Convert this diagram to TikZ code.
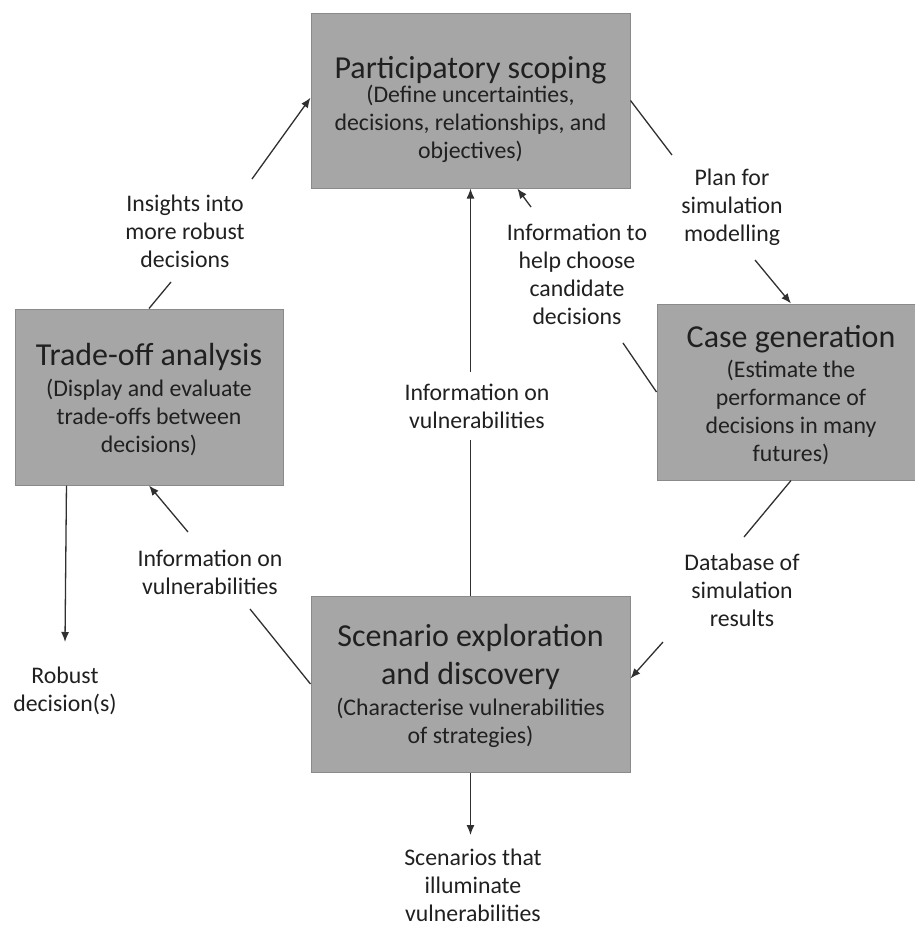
\documentclass[tikz,border=0pt]{standalone}
\usepackage{fontspec}
\setmainfont{Carlito}
\usetikzlibrary{arrows.meta}
\definecolor{boxfill}{HTML}{A6A6A6}
\definecolor{boxedge}{HTML}{8A8A8A}
\definecolor{lin}{HTML}{303030}
\definecolor{txt}{HTML}{202020}
\newcommand\boxtitle{\fontsize{32}{38}\selectfont}
\newcommand\boxsub{\fontsize{23.8}{28}\selectfont}
\begin{document}
\begin{tikzpicture}[x=1pt,y=-1pt,
  box/.style={draw=boxedge, fill=boxfill, line width=1pt, inner sep=0pt},
  boxtxt/.style={align=center, text=txt, inner sep=0pt, font=\boxsub},
  lbl/.style={align=center, text=txt, font=\boxsub, inner sep=0pt},
  conn/.style={draw=lin, line width=1.3pt},
  arr/.style={conn, -{Latex[length=10pt,width=8pt]}}]
\useasboundingbox (0,0) rectangle (914,927);
% boxes
\node[box, minimum width=319pt, minimum height=175pt] (part) at (470.5,100.5) {};
\node[boxtxt, yshift=-9pt] (partT) at (part)
  {{\boxtitle Participatory scoping}\\[-4pt](Define uncertainties,\\decisions, relationships, and\\objectives)};
\node[box, minimum width=268pt, minimum height=176pt] (case) at (791,392) {};
\node[boxtxt, yshift=-3pt] (caseT) at (case)
  {{\boxtitle Case generation}\\[2pt](Estimate the\\performance of\\decisions in many\\futures)};
\node[box, minimum width=268pt, minimum height=176pt] (trade) at (149,397) {};
\node[boxtxt, yshift=-3pt] (tradeT) at (trade)
  {{\boxtitle Trade-off analysis}\\[3pt](Display and evaluate\\trade-offs between\\decisions)};
\node[box, minimum width=319pt, minimum height=176pt] (scen) at (470.5,684) {};
\node[boxtxt, yshift=-2pt] (scenT) at (scen)
  {{\boxtitle Scenario exploration}\\[10pt]{\boxtitle and discovery}\\[3pt](Characterise vulnerabilities\\of strategies)};
% labels
\node[lbl] (insights) at (185,231) {Insights into\\more robust\\decisions};
\node[lbl] (plan) at (732,207) {Plan for\\simulation\\modelling};
\node[lbl] (help) at (577,274) {Information to\\help choose\\candidate\\decisions};
\node[lbl] (dbase) at (742,590) {Database of\\simulation\\results};
\node[lbl, inner ysep=11.5pt] (vmid) at (477,406) {Information on\\vulnerabilities};
\node[lbl] (vleft) at (210,572) {Information on\\vulnerabilities};
\node[lbl] (robust) at (65,691) {Robust\\decision(s)};
\node[lbl] (scenout) at (473,885) {Scenarios that\\illuminate\\vulnerabilities};
% free ends
\coordinate (c1a) at (171,282);
\coordinate (c1b) at (252,179);
\coordinate (c2a) at (672,155);
\coordinate (c2b) at (755,260);
\coordinate (c3a) at (623,343);
\coordinate (c3b) at (531,207);
\coordinate (c4a) at (744,537);
\coordinate (c4b) at (663,642);
\coordinate (c6a) at (250,609);
\coordinate (c6b) at (188,532);
\coordinate (c7) at (65,642);
\coordinate (c8) at (470.5,835);
% connectors
\draw[conn] (trade.north) -- (c1a);
\draw[arr] (c1b) -- (part.179);
\draw[conn] (part.east) -- (c2a);
\draw[arr] (c2b) -- (case.north);
\draw[conn] (case.west) -- (c3a);
\draw[arr] (c3b) -- (part.-62);
\draw[conn] (case.south) -- (c4a);
\draw[arr] (c4b) -- (scen.2);
\draw[conn] (scen.north) -- (scen.north |- vmid.south);
\draw[arr] (scen.north |- vmid.north) -- (part.south);
\draw[conn] (scen.west) -- (c6a);
\draw[arr] (c6b) -- (trade.south);
\draw[arr] (trade.-133.7) -- (c7);
\draw[arr] (scen.south) -- (c8);
\end{tikzpicture}
\end{document}
